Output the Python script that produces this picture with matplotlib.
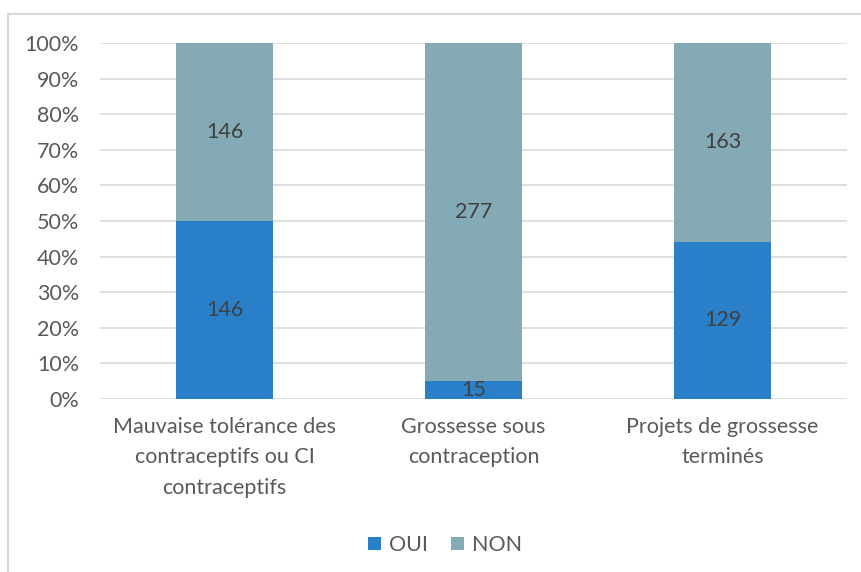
import numpy as np
import matplotlib
matplotlib.use('Agg')
from matplotlib import pyplot as plt
from matplotlib.ticker import PercentFormatter
from matplotlib.patches import Rectangle

categories = ['Mauvaise tolérance des\ncontraceptifs ou CI\ncontraceptifs',
              'Grossesse sous\ncontraception',
              'Projets de grossesse\nterminés']
oui = [146, 15, 129]
non = [146, 277, 163]

plt.rcParams['font.family'] = ['Lato', 'DejaVu Sans']
text_col = '#595959'
oui_col = '#2a80c8'
non_col = '#84abb5'

oui_arr = np.array(oui, dtype=float)
non_arr = np.array(non, dtype=float)
total = oui_arr + non_arr
oui_pct = oui_arr / total * 100
non_pct = non_arr / total * 100

fig = plt.figure(figsize=(8.62, 5.72), dpi=100)
ax = fig.add_axes([100/862, 1 - 399/572, 747/862, 356/572])

x = np.arange(len(categories))
w = 0.39
b1 = ax.bar(x, oui_pct, w, color=oui_col, label='OUI', zorder=3)
b2 = ax.bar(x, non_pct, w, bottom=oui_pct, color=non_col, label='NON', zorder=3)

for i in range(len(categories)):
    ax.text(x[i], oui_pct[i] / 2, str(oui[i]), ha='center', va='center',
            fontsize=15.5, color='#404040', zorder=4)
    ax.text(x[i], oui_pct[i] + non_pct[i] / 2, str(non[i]), ha='center', va='center',
            fontsize=15.5, color='#404040', zorder=4)

ax.set_xlim(-0.5, 2.5)
ax.set_ylim(0, 100)
ax.set_yticks(np.arange(0, 101, 10))
ax.yaxis.set_major_formatter(PercentFormatter(decimals=0))
ax.grid(axis='y', color='#d9d9d9', lw=1.2, zorder=0)
for s in ax.spines.values():
    s.set_visible(False)
ax.tick_params(length=0, labelsize=15.5, colors=text_col)
ax.tick_params(axis='y', pad=15)
ax.tick_params(axis='x', pad=13)
ax.set_xticks(x)
ax.set_xticklabels(categories, linespacing=1.65, va='top')

leg = fig.legend(handles=[b1, b2], labels=['OUI', 'NON'], loc='center',
                 bbox_to_anchor=(445/862, 1 - 545/572), ncol=2, frameon=False,
                 fontsize=15.5, handlelength=0.6, handleheight=0.6,
                 handletextpad=0.35, columnspacing=1.1)
for t in leg.get_texts():
    t.set_color(text_col)

# outer chart border (top and left visible)
fig.add_artist(Rectangle((8/862, -0.1), 1.2, 1 - 14/572 + 0.1, transform=fig.transFigure,
                         fill=False, edgecolor='#d9d9d9', lw=1.5))

fig.savefig('out.png', dpi=100)
